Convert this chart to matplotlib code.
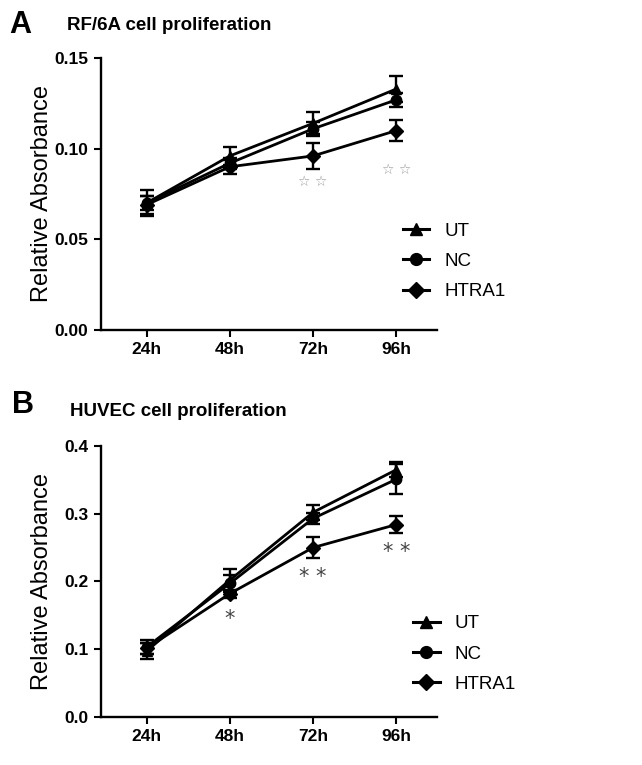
import matplotlib
matplotlib.use("Agg")
import matplotlib.pyplot as plt
from matplotlib.lines import Line2D
import numpy as np

plt.rcParams['font.family'] = ['Liberation Sans', 'DejaVu Sans']

# time points
times = ["24h", "48h", "72h", "96h"]
groups = ["UT", "NC", "HTRA1"]

# panel A: RF/6A
rf_ut = [0.070, 0.096, 0.114, 0.133]
rf_ut_err = [0.007, 0.005, 0.006, 0.007]
rf_nc = [0.070, 0.092, 0.111, 0.127]
rf_nc_err = [0.004, 0.003, 0.004, 0.004]
rf_htra1 = [0.069, 0.090, 0.096, 0.110]
rf_htra1_err = [0.005, 0.004, 0.007, 0.006]
rf_stars = [(2, 0.0817, "☆ ☆"), (3, 0.088, "☆ ☆")]

# panel B: HUVEC
hu_ut = [0.097, 0.202, 0.302, 0.365]
hu_ut_err = [0.012, 0.016, 0.011, 0.011]
hu_nc = [0.103, 0.197, 0.293, 0.351]
hu_nc_err = [0.010, 0.012, 0.008, 0.022]
hu_htra1 = [0.101, 0.182, 0.250, 0.284]
hu_htra1_err = [0.008, 0.006, 0.015, 0.012]
hu_stars = [(1, 0.145, "*"), (2, 0.207, "* *"), (3, 0.244, "* *")]

markers = ["^", "o", "D"]
msizes = [7.5, 7.5, 7]


def draw_panel(ax, series, errs, stars, star_color, star_size, ymax, yticks, fmt, leg_anchor):
    x = np.arange(len(times))
    handles = []
    for s, e, m, ms, lab in zip(series, errs, markers, msizes, groups):
        ax.errorbar(x, s, yerr=e, color="black", marker=m, markersize=ms, lw=2.0,
                    elinewidth=1.7, capsize=5, capthick=1.7)
        handles.append(Line2D([], [], color="black", marker=m, markersize=ms + 1, lw=2.2, label=lab))
    for xi, yi, txt in stars:
        ax.text(xi, yi, txt, ha="center", va="center", fontsize=star_size, color=star_color,
                family=["DejaVu Sans"])
    ax.set_xlim(-0.55, 3.49)
    ax.set_ylim(0, ymax)
    ax.set_xticks(x)
    ax.set_xticklabels(times, fontsize=12.5, fontweight="bold")
    ax.set_yticks(yticks)
    ax.set_yticklabels([fmt.format(v) for v in yticks], fontsize=12.5, fontweight="bold")
    ax.spines["top"].set_visible(False)
    ax.spines["right"].set_visible(False)
    ax.spines["left"].set_linewidth(1.7)
    ax.spines["bottom"].set_linewidth(1.7)
    ax.tick_params(direction="out", length=5, width=1.5, pad=4)
    ax.set_ylabel("Relative Absorbance", fontsize=17)
    ax.yaxis.set_label_coords(-0.143, 0.5)
    ax.legend(handles=handles, loc="upper left", bbox_to_anchor=leg_anchor, frameon=False,
              fontsize=13.5, handlelength=1.4, handletextpad=0.8, labelspacing=0.7,
              borderpad=0, borderaxespad=0)


fig = plt.figure(figsize=(6.42, 7.65), dpi=100)
ax1 = fig.add_axes([0.157, 0.569, 0.524, 0.355])
ax2 = fig.add_axes([0.157, 0.063, 0.524, 0.354])

draw_panel(ax1, [rf_ut, rf_nc, rf_htra1], [rf_ut_err, rf_nc_err, rf_htra1_err],
           rf_stars, "#999999", 10, 0.15, [0.00, 0.05, 0.10, 0.15], "{:.2f}", (0.899, 0.395))
draw_panel(ax2, [hu_ut, hu_nc, hu_htra1], [hu_ut_err, hu_nc_err, hu_htra1_err],
           hu_stars, "#444444", 15, 0.4, [0.0, 0.1, 0.2, 0.3, 0.4], "{:.1f}", (0.929, 0.375))

fig.text(0.015, 1 - 25 / 765, "A", fontsize=22, fontweight="bold", va="center")
fig.text(0.104, 1 - 25 / 765, "RF/6A cell proliferation", fontsize=13.5, fontweight="bold", va="center")
fig.text(0.018, 1 - 405 / 765, "B", fontsize=22, fontweight="bold", va="center")
fig.text(0.109, 1 - 412 / 765, "HUVEC cell proliferation", fontsize=13.5, fontweight="bold", va="center")

fig.savefig("out.png", dpi=100)
